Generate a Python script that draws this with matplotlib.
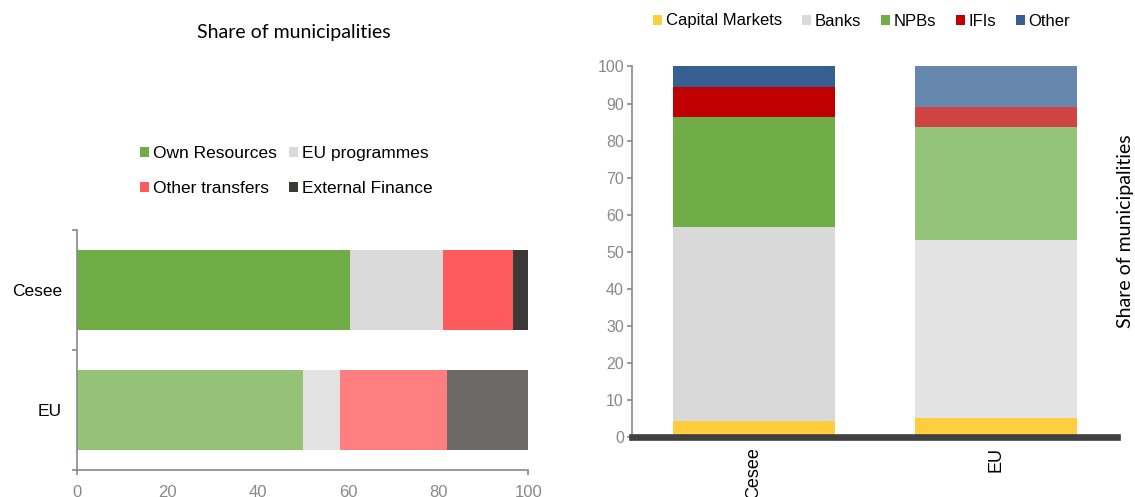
import matplotlib
matplotlib.use('Agg')
import matplotlib.pyplot as plt
from matplotlib.patches import Patch

plt.rcParams['font.family'] = ['Liberation Sans', 'DejaVu Sans']

regions = ['Cesee', 'EU']

# left panel: sources of funding, % of total
source_names = ['Own Resources', 'EU programmes', 'Other transfers', 'External Finance']
own_resources = [60.5, 50.0]
eu_programmes = [20.6, 8.3]
other_transfers = [15.4, 23.6]
external_finance = [3.5, 18.1]

# right panel: sources of external finance, % of total
lender_names = ['Capital Markets', 'Banks', 'NPBs', 'IFIs', 'Other']
capital_markets = [4.4, 5.3]
banks = [52.4, 47.8]
npbs = [29.7, 30.7]
ifis = [8.1, 5.3]
other = [5.4, 10.9]

# colours: (Cesee, EU) shade per series
left_colors = [('#70AD47', '#94C277'), ('#DADADA', '#E3E3E3'),
               ('#FF5A5E', '#FF7F80'), ('#3A3938', '#6B6A68')]
right_colors = [('#FFCE3F', '#FFCE3F'), ('#D9D9D9', '#E3E3E3'),
                ('#70AD47', '#93C47A'), ('#C00000', '#D04343'),
                ('#366092', '#6788AE')]
grey = '#898989'
title_font = 'Lato'

fig = plt.figure(figsize=(11.35, 4.97), dpi=100)

# ---- left: horizontal stacked bars
ax1 = fig.add_axes([0.0681, 0.0543, 0.3974, 0.4829])
ypos = [1, 0]
left = [0, 0]
for vals, cols in zip([own_resources, eu_programmes, other_transfers, external_finance], left_colors):
    ax1.barh(ypos, vals, left=left, height=0.667, color=list(cols), linewidth=0)
    left = [a + b for a, b in zip(left, vals)]

ax1.set_xlim(0, 100)
ax1.set_ylim(-0.5, 1.5)
ax1.set_xticks(range(0, 101, 20))
ax1.set_xticks([0, 100], minor=True)
ax1.set_yticks(ypos)
ax1.set_yticklabels(regions)
ax1.set_yticks([-0.5, 0.5, 1.5], minor=True)
ax1.xaxis.remove_overlapping_locs = False
ax1.tick_params(axis='x', which='major', length=0, pad=11, labelsize=12, labelcolor=grey)
ax1.tick_params(axis='y', which='major', length=0, pad=11, labelsize=12.5)
ax1.tick_params(which='minor', length=3.5, width=1.2, color=grey, direction='out')
for s in ['top', 'right']:
    ax1.spines[s].set_visible(False)
for s in ['left', 'bottom']:
    ax1.spines[s].set_color(grey)
    ax1.spines[s].set_linewidth(1.2)

# legend fills column-first, so order entries to read row by row
order = [0, 2, 1, 3]
handles = [Patch(facecolor=left_colors[i][0], edgecolor='none') for i in order]
fig.legend(handles, [source_names[i] for i in order], loc='center', bbox_to_anchor=(0.252, 0.656),
           ncol=2, frameon=False, fontsize=12.5, handlelength=0.55, handleheight=0.55,
           handletextpad=0.2, columnspacing=0.7, labelspacing=1.15, borderpad=0)

fig.text(294 / 1135, 1 - 32.7 / 497, 'Share of municipalities', ha='center', va='center',
         fontsize=14, family=title_font)

# ---- right: vertical stacked bars
ax2 = fig.add_axes([0.5571, 0.1201, 0.4270, 0.7461])
xpos = [0, 1]
bottom = [0, 0]
for vals, cols in zip([capital_markets, banks, npbs, ifis, other], right_colors):
    ax2.bar(xpos, vals, bottom=bottom, width=0.67, color=list(cols), linewidth=0)
    bottom = [a + b for a, b in zip(bottom, vals)]

ax2.set_xlim(-0.503, 1.5)
ax2.set_ylim(0, 100)
ax2.set_yticks(range(0, 101, 10))
ax2.set_xticks(xpos)
ax2.set_xticklabels(regions, rotation=90, va='top', ha='center')
ax2.tick_params(axis='x', length=0, pad=7, labelsize=13)
ax2.tick_params(axis='y', length=3.5, width=1.2, color=grey, pad=2.5, labelsize=11.5, labelcolor=grey)
for s in ['top', 'right']:
    ax2.spines[s].set_visible(False)
ax2.spines['left'].set_color(grey)
ax2.spines['left'].set_linewidth(1.2)
ax2.spines['bottom'].set_color('#404040')
ax2.spines['bottom'].set_linewidth(4.8)

handles2 = [Patch(facecolor=c[0], edgecolor='none') for c in right_colors]
fig.legend(handles2, lender_names, loc='center', bbox_to_anchor=(861.6 / 1135, 1 - 21 / 497),
           ncol=5, frameon=False, fontsize=12, handlelength=0.55, handleheight=0.55,
           handletextpad=0.2, columnspacing=1.2, borderpad=0)

fig.text(1126 / 1135, 1 - 231.5 / 497, 'Share of municipalities', rotation=90,
         ha='center', va='center', fontsize=14, family=title_font)

fig.savefig('out.png', dpi=100)
